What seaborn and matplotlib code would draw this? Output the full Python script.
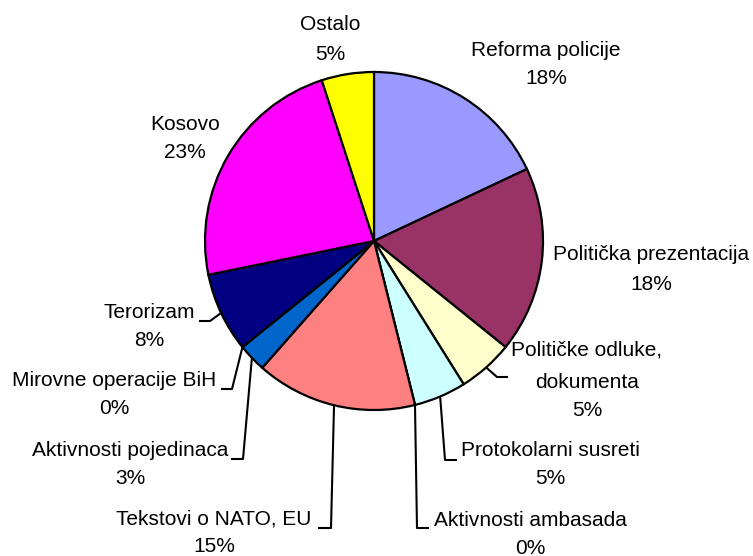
import matplotlib
matplotlib.use("Agg")
import numpy as np
import matplotlib.pyplot as plt
import seaborn as sns

# Share of coverage by topic (percent), clockwise from 12 o'clock
categories = [
    "Reforma policije",
    "Politička prezentacija",
    "Političke odluke,\ndokumenta",
    "Protokolarni susreti",
    "Aktivnosti ambasada",
    "Tekstovi o NATO, EU",
    "Aktivnosti pojedinaca",
    "Mirovne operacije BiH",
    "Terorizam",
    "Kosovo",
    "Ostalo",
]
shares = [18.0, 17.8, 5.3, 5.0, 0.0, 15.4, 2.7, 0.0, 7.6, 23.2, 5.0]
colors = [
    "#9999FF", "#993366", "#FFFFCC", "#CCFFFF", "#660066", "#FF8080",
    "#0066CC", "#CCCCFF", "#000080", "#FF00FF", "#FFFF00",
]

# Canvas in pixel units (origin top-left for layout convenience)
W, H = 753, 556
CX, CY, R = 374, 241, 169

# Label layout: text centre x, visual centre y of each line (name lines then percent)
label_x = [546, 651, 587, 550, 530, 214, 130, 114, 149, 185, 330]
label_y = [
    [48, 76],
    [252, 283],
    [348, 380, 408],
    [449, 477],
    [518, 546],
    [517, 545],
    [448, 477],
    [379, 407],
    [310, 339],
    [123, 150],
    [23, 52],
]
# Leader lines: elbow point and end point next to the text (None = no leader)
leaders = [
    None,
    None,
    ((497, 377), (508, 377)),
    ((445, 460), (457, 460)),
    ((417, 528), (429, 528)),
    ((331, 528), (318, 528)),
    ((243, 459), (231, 459)),
    ((232, 389), (221, 389)),
    ((210, 321), (199, 321)),
    None,
    None,
]

sns.set_theme(style="white")
plt.rcParams["font.family"] = ["Liberation Sans", "DejaVu Sans"]

fig = plt.figure(figsize=(W / 100, H / 100), dpi=100)
ax = fig.add_axes([0, 0, 1, 1])


def py(y):
    return H - y


wedges, _ = ax.pie(
    shares,
    colors=colors,
    startangle=90,
    counterclock=False,
    center=(CX, py(CY)),
    radius=R,
    wedgeprops=dict(edgecolor="black", linewidth=1.6),
)
ax.set_xlim(0, W)
ax.set_ylim(0, H)
ax.set_aspect("equal")
ax.axis("off")

for wedge, name, share, lx, ly, lead in zip(
    wedges, categories, shares, label_x, label_y, leaders
):
    lines = name.split("\n") + [f"{round(share)}%"]
    for text, y in zip(lines, ly):
        ax.text(lx, py(y + 2), text, ha="center", va="center", fontsize=15,
                color="black")
    if lead is not None:
        mid = np.deg2rad((wedge.theta1 + wedge.theta2) / 2)
        ax_pt = (CX + R * np.cos(mid), py(CY) + R * np.sin(mid))
        xs = [ax_pt[0], lead[0][0], lead[1][0]]
        ys = [ax_pt[1], py(lead[0][1]), py(lead[1][1])]
        ax.plot(xs, ys, color="black", linewidth=1.5, solid_capstyle="butt")

fig.savefig("out.png", dpi=100, facecolor="white")
